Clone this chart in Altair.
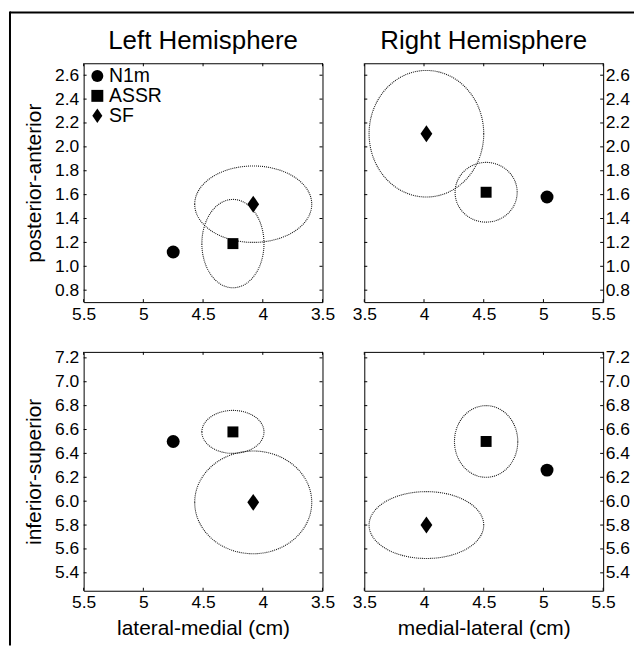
import altair as alt
import pandas as pd
import numpy as np

FONT = "Liberation Sans"
series = ["N1m", "ASSR", "SF"]
DIAMOND = "M0,-1.2L0.84,0L0,1.2L-0.84,0Z"
shapes = ["circle", "square", DIAMOND]
sizes = [169, 121, 200]

# dipole locations (cm) per panel: order N1m, ASSR, SF
tl_x = [4.75, 4.25, 4.08]
tl_y = [1.12, 1.19, 1.52]
tr_x = [5.03, 4.52, 4.02]
tr_y = [1.58, 1.62, 2.11]
bl_x = [4.75, 4.25, 4.08]
bl_y = [6.50, 6.58, 5.99]
br_x = [5.03, 4.52, 4.02]
br_y = [6.26, 6.50, 5.80]

# confidence ellipse half-axes (cm): ASSR, SF
ell_series = ["ASSR", "SF"]
tl_rx = [0.26, 0.49]
tl_ry = [0.37, 0.32]
tr_rx = [0.26, 0.48]
tr_ry = [0.25, 0.53]
bl_rx = [0.26, 0.49]
bl_ry = [0.18, 0.43]
br_rx = [0.265, 0.48]
br_ry = [0.30, 0.28]

x_ticks = [3.5, 4, 4.5, 5, 5.5]
y_ticks_top = [0.8, 1.0, 1.2, 1.4, 1.6, 1.8, 2.0, 2.2, 2.4, 2.6]
y_ticks_bot = [5.4, 5.6, 5.8, 6.0, 6.2, 6.4, 6.6, 6.8, 7.0, 7.2]
y_dom_top = [0.7, 2.7]
y_dom_bot = [5.25, 7.25]
x_dom = [3.5, 5.5]

W, H = 240, 240
TK = 3
LBL = 17.5


def panel(px, py, rx, ry, reverse, ydom, yticks, yorient, ytitle, xtitle,
          title, legend, border):
    pts = pd.DataFrame({"series": series, "x": px, "y": py})
    rows = []
    t = np.linspace(0, 2 * np.pi, 181)
    for s, a, b in zip(ell_series, rx, ry):
        i = series.index(s)
        for k, tt in enumerate(t):
            rows.append({"id": s, "k": k,
                         "x": px[i] + a * np.cos(tt),
                         "y": py[i] + b * np.sin(tt)})
    ell = pd.DataFrame(rows)

    xs = alt.Scale(domain=x_dom, reverse=reverse, nice=False, zero=False)
    ys = alt.Scale(domain=ydom, nice=False, zero=False)
    xaxis_kw = dict(values=x_ticks, format="~g", labelFontSize=LBL,
                    labelFont=FONT, labelPadding=3, ticks=False, tickSize=0,
                    domain=False, grid=False, labelColor="black",
                    labelFlush=False, labelOverlap=False)
    if xtitle:
        xaxis_kw.update(title=xtitle, titleFontSize=21, titleFont=FONT,
                        titleFontWeight="normal", titlePadding=6,
                        titleColor="black")
    else:
        xaxis_kw.update(title=None)
    yaxis_kw = dict(values=yticks, format=".1f", labelFontSize=LBL,
                    labelFont=FONT, orient=yorient,
                    labelPadding=5 if yorient == "left" else 2,
                    ticks=False, tickSize=0, domain=False, grid=False,
                    labelColor="black", labelFlush=False, labelOverlap=False)
    if ytitle:
        yaxis_kw.update(title=ytitle, titleFontSize=21, titleFont=FONT,
                        titleFontWeight="normal", titlePadding=10,
                        titleColor="black")
    else:
        yaxis_kw.update(title=None)

    xenc = alt.X("x:Q", scale=xs, axis=alt.Axis(**xaxis_kw))
    yenc = alt.Y("y:Q", scale=ys, axis=alt.Axis(**yaxis_kw))

    ellipses = alt.Chart(ell).mark_line(
        stroke="#111111", strokeWidth=1.1, strokeDash=[1, 1]
    ).encode(x=xenc, y=yenc, detail="id:N", order="k:Q")

    shape_scale = alt.Scale(domain=series, range=shapes)
    if legend:
        lg = alt.Legend(orient="none", legendX=4, legendY=3, title=None,
                        padding=0, labelFontSize=19.5, labelFont=FONT,
                        labelColor="black", symbolFillColor="black",
                        symbolStrokeWidth=0, symbolSize=144, rowPadding=-1,
                        labelOffset=2)
    point_layers = []
    for s, sz in zip(series, sizes):
        enc_shape = alt.Shape("series:N", scale=shape_scale,
                              legend=lg if legend else None)
        point_layers.append(
            alt.Chart(pts).transform_filter(alt.datum.series == s).mark_point(
                filled=True, color="black", opacity=1, strokeWidth=0, size=sz
            ).encode(x=xenc, y=yenc, shape=enc_shape)
        )

    xt = pd.DataFrame({"x": x_ticks})
    yt = pd.DataFrame({"y": yticks})
    tick_color = "black"
    t_bot = alt.Chart(xt).mark_rule(color=tick_color, strokeWidth=1).encode(
        x=xenc, y=alt.value(H), y2=alt.value(H - TK))
    t_top = alt.Chart(xt).mark_rule(color=tick_color, strokeWidth=1).encode(
        x=xenc, y=alt.value(0), y2=alt.value(TK))
    t_left = alt.Chart(yt).mark_rule(color=tick_color, strokeWidth=1).encode(
        y=yenc, x=alt.value(0), x2=alt.value(TK))
    t_right = alt.Chart(yt).mark_rule(color=tick_color, strokeWidth=1).encode(
        y=yenc, x=alt.value(W), x2=alt.value(W - TK))

    layers = [ellipses] + point_layers + [t_bot, t_top, t_left, t_right]
    if border:
        # outer frame of the figure (top and left edges visible)
        one = alt.Data(values=[{"a": 1}])
        b_top = alt.Chart(one).mark_rule(color="black", strokeWidth=2).encode(
            x=alt.value(-74), x2=alt.value(553), y=alt.value(-341))
        b_left = alt.Chart(one).mark_rule(color="black", strokeWidth=2).encode(
            x=alt.value(-74), y=alt.value(-342), y2=alt.value(295))
        layers += [b_top, b_left]

    props = dict(width=W, height=H)
    if title:
        props["title"] = alt.TitleParams(
            title, fontSize=26, font=FONT, fontWeight="normal",
            frame="group", offset=9, color="black")
    return alt.layer(*layers).properties(**props)


tl = panel(tl_x, tl_y, tl_rx, tl_ry, True, y_dom_top, y_ticks_top, "left",
           "posterior-anterior", None, "Left Hemisphere", True, False)
tr = panel(tr_x, tr_y, tr_rx, tr_ry, False, y_dom_top, y_ticks_top, "right",
           None, None, "Right Hemisphere", False, False)
bl = panel(bl_x, bl_y, bl_rx, bl_ry, True, y_dom_bot, y_ticks_bot, "left",
           "inferior-superior", "lateral-medial (cm)", None, False, True)
br = panel(br_x, br_y, br_rx, br_ry, False, y_dom_bot, y_ticks_bot, "right",
           None, "medial-lateral (cm)", None, False, False)

chart = alt.concat(
    tl, tr, bl, br, columns=2, bounds="flush",
    spacing=alt.RowColnumber(row=50, column=42)
).resolve_scale(
    x="independent", y="independent", shape="independent"
).resolve_legend(shape="independent").properties(
    padding={"left": 0, "top": 0, "right": 0, "bottom": 0},
    background="white",
).configure_view(stroke="black", strokeWidth=1).configure_axis(
    labelOverlap=False
)

chart.save("out.html", embed_options={"renderer": "svg", "actions": False})
